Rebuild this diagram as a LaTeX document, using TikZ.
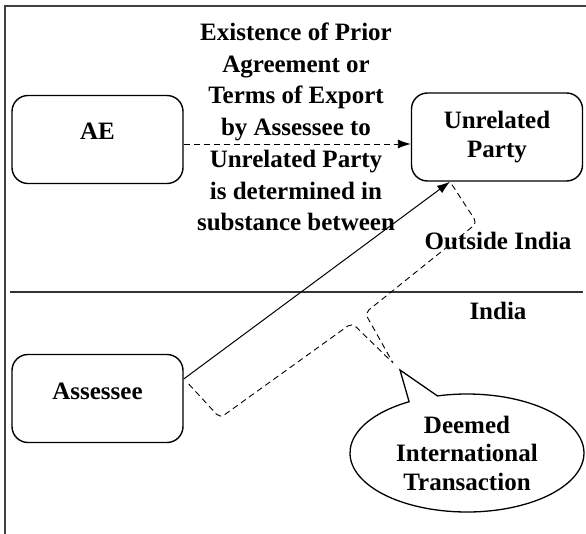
\documentclass[tikz,border=0pt]{standalone}
\usepackage{fontspec}
\setmainfont{Liberation Serif}
\usetikzlibrary{arrows.meta,shapes.callouts,shapes.geometric}
\begin{document}
\begin{tikzpicture}[x=1pt,y=-1pt,
  box/.style={draw, line width=1.4pt, rounded corners=16pt, minimum width=171pt, minimum height=88pt,
    align=center, font=\fontsize{25}{29}\selectfont\bfseries, inner sep=0pt},
  onebox/.style={box, text height=16.5pt, text depth=15.5pt},
  lbl/.style={font=\fontsize{25}{31.7}\selectfont\bfseries, align=center, inner sep=0pt},
  dsh/.style={dash pattern=on 6pt off 4pt, line width=0.9pt},
  tip/.style={-{Latex[length=13pt,width=9pt]}}]
\useasboundingbox (0,0) rectangle (586,534);
% frame and divider
\draw[line width=1.5pt, black!75] (5,534) -- (5,6) -- (586,6);
\draw[line width=1.2pt, black!80] (10,292) -- (583,292);
% boxes
\node[onebox] (AE) at (97.5,139.5) {AE};
\node[box] (UP) at (497,137) {Unrelated\\Party};
\node[onebox] (AS) at (97.5,398.5) {Assessee};
% texts
\node[lbl] (mid) at (296,127) {Existence of Prior\\Agreement or\\Terms of Export\\by Assessee to\\Unrelated Party\\is determined in\\substance between};
\node[lbl, anchor=base] (out) at (498,250) {Outside India};
\node[lbl, anchor=base] (ind) at (498,320) {India};
% callout
\node[ellipse callout, draw, line width=1.3pt, minimum width=234pt, minimum height=118pt,
  callout absolute pointer={(400,370)}, align=center, inner sep=0pt,
  font=\fontsize{25}{28.5}\selectfont\bfseries] (DIT) at (467,453) {Deemed\\International\\Transaction};
% connectors
\draw[dsh, tip] ([yshift=-4.5pt]AE.east) -- ([yshift=-7pt]UP.west);
\draw[line width=1pt, tip] ([yshift=19.5pt]AS.east) -- ([xshift=-47pt]UP.south);
\coordinate (u1) at (477,223);
\coordinate (u2) at (365,313);
\coordinate (u3) at (393,363);
\coordinate (l1) at (220,418);
\coordinate (l2) at (352,323);
\coordinate (l3) at (392,362);
\draw[dsh, rounded corners=5pt] ([xshift=-45pt,yshift=-3pt]UP.south) -- (u1) -- (u2) -- (u3);
\draw[dsh, rounded corners=5pt] ([xshift=5pt,yshift=14.5pt]AS.east) -- (l1) -- (l2) -- (l3);
\end{tikzpicture}
\end{document}
